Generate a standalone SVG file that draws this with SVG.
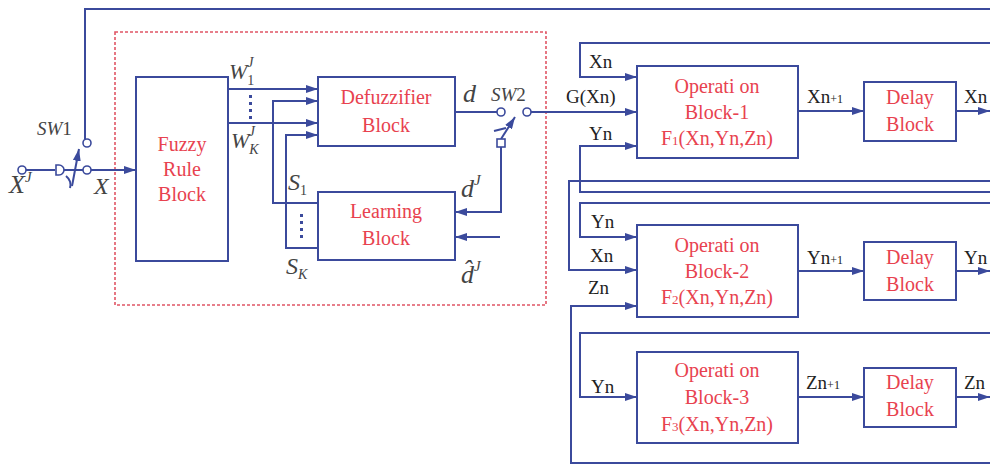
<svg xmlns="http://www.w3.org/2000/svg" width="990" height="466" viewBox="0 0 990 466">
<defs>
<marker id="arr" viewBox="0 0 12 8" refX="12" refY="4" markerWidth="12" markerHeight="8" markerUnits="userSpaceOnUse" orient="auto">
<path d="M0,0 L12,4 L0,8 Z" fill="#3b4a9c"/>
</marker>
<style>
.ln{fill:none;stroke:#3b4a9c;stroke-width:2}
.ar{fill:none;stroke:#3b4a9c;stroke-width:2;marker-end:url(#arr)}
.box{fill:#fff;stroke:#3b4a9c;stroke-width:2}
.ct{fill:#fff;stroke:#3b4a9c;stroke-width:1.6}
.bt{font-family:"Liberation Serif","Times New Roman",serif;font-size:20px;fill:#e8424f;text-anchor:middle}
.lb{font-family:"Liberation Serif","Times New Roman",serif;font-size:19px;fill:#222}
.mt{font-family:"Liberation Serif","Times New Roman",serif;font-style:italic;fill:#444}
.dot{fill:#3b4a9c}
</style>
</defs>
<rect width="990" height="466" fill="#fff"/>
<rect x="115" y="32" width="431" height="273" fill="none" stroke="#e05565" stroke-width="1.6" stroke-dasharray="3,2"/>
<g id="connectors">
<line class="ln" x1="26" y1="170" x2="55" y2="170"/>
<line class="ln" x1="63" y1="170" x2="83" y2="170"/>
<line class="ar" x1="91" y1="170" x2="136" y2="170"/>
<line class="ar" x1="72" y1="186" x2="79" y2="149"/>
<path class="ln" d="M66,176 Q72,181 70,188"/>
<polyline class="ln" points="85,139 85,9 990,9"/>
<line class="ar" x1="228" y1="89" x2="318" y2="89"/>
<line class="ar" x1="228" y1="123" x2="318" y2="123"/>
<polyline class="ar" points="318,203 273,203 273,101 318,101"/>
<polyline class="ar" points="318,248 286,248 286,135 318,135"/>
<line class="ln" x1="455" y1="112" x2="497" y2="112"/>
<line class="ar" x1="501" y1="139" x2="515" y2="117"/>
<line class="ln" x1="494" y1="131" x2="506" y2="128"/>
<polyline class="ar" points="501,147 501,212 455,212"/>
<line class="ar" x1="500" y1="237" x2="455" y2="237"/>
<line class="ar" x1="531" y1="112" x2="637" y2="112"/>
<polyline class="ar" points="990,43 580,43 580,77 637,77"/>
<polyline class="ar" points="990,192 580,192 580,146 637,146"/>
<polyline class="ar" points="990,203 580,203 580,237 637,237"/>
<polyline class="ar" points="990,181 569,181 569,270 637,270"/>
<polyline class="ar" points="990,463 571,463 571,306 637,306"/>
<polyline class="ar" points="990,333 580,333 580,397 637,397"/>
<line class="ar" x1="798" y1="111" x2="864" y2="111"/>
<line class="ar" x1="956" y1="111" x2="990" y2="111"/>
<line class="ar" x1="798" y1="271" x2="864" y2="271"/>
<line class="ar" x1="956" y1="271" x2="990" y2="271"/>
<line class="ar" x1="798" y1="397" x2="864" y2="397"/>
<line class="ar" x1="956" y1="397" x2="990" y2="397"/>
<circle class="ct" cx="22" cy="170" r="4"/>
<path class="ct" d="M56,165 L59,165 A5,5 0 0 1 59,175 L56,175 Z"/>
<circle class="ct" cx="87" cy="170" r="4"/>
<circle class="ct" cx="87" cy="143" r="4"/>
<circle class="ct" cx="501" cy="112" r="4"/>
<circle class="ct" cx="527" cy="112" r="4"/>
<rect class="ct" x="497" y="139" width="8" height="8"/>
<rect class="dot" x="249" y="95" width="3" height="3"/>
<rect class="dot" x="249" y="102" width="3" height="3"/>
<rect class="dot" x="249" y="109" width="3" height="3"/>
<rect class="dot" x="249" y="116" width="3" height="3"/>
<rect class="dot" x="300" y="214" width="3" height="3"/>
<rect class="dot" x="300" y="221" width="3" height="3"/>
<rect class="dot" x="300" y="228" width="3" height="3"/>
<rect class="dot" x="300" y="235" width="3" height="3"/>
</g>
<g id="fuzzy">
<rect class="box" x="136" y="77" width="92" height="184"/>
<text class="bt" x="182" y="151">Fuzzy</text>
<text class="bt" x="182" y="176">Rule</text>
<text class="bt" x="182" y="201">Block</text>
</g>
<g id="defuzzifier">
<rect class="box" x="318" y="77" width="137" height="69"/>
<text class="bt" x="386" y="104">Defuzzifier</text>
<text class="bt" x="386" y="132">Block</text>
</g>
<g id="learning">
<rect class="box" x="318" y="192" width="137" height="68"/>
<text class="bt" x="386" y="218">Learning</text>
<text class="bt" x="386" y="245">Block</text>
</g>
<g id="op1">
<rect class="box" x="637" y="66" width="161" height="92"/>
<text class="bt" x="717" y="93">Operati on</text>
<text class="bt" x="717" y="119">Block-1</text>
<text class="bt" x="717" y="145">F<tspan font-size="13">1</tspan>(Xn,Yn,Zn)</text>
</g>
<g id="delay1">
<rect class="box" x="864" y="82" width="92" height="59"/>
<text class="bt" x="910" y="104">Delay</text>
<text class="bt" x="910" y="131">Block</text>
</g>
<g id="op2">
<rect class="box" x="637" y="225" width="161" height="92"/>
<text class="bt" x="717" y="252">Operati on</text>
<text class="bt" x="717" y="278">Block-2</text>
<text class="bt" x="717" y="304">F<tspan font-size="13">2</tspan>(Xn,Yn,Zn)</text>
</g>
<g id="delay2">
<rect class="box" x="864" y="242" width="92" height="58"/>
<text class="bt" x="910" y="264">Delay</text>
<text class="bt" x="910" y="291">Block</text>
</g>
<g id="op3">
<rect class="box" x="637" y="352" width="161" height="91"/>
<text class="bt" x="717" y="377">Operati on</text>
<text class="bt" x="717" y="404">Block-3</text>
<text class="bt" x="717" y="431">F<tspan font-size="13">3</tspan>(Xn,Yn,Zn)</text>
</g>
<g id="delay3">
<rect class="box" x="864" y="368" width="92" height="59"/>
<text class="bt" x="910" y="389">Delay</text>
<text class="bt" x="910" y="416">Block</text>
</g>
<g id="labels">
<text class="mt" x="37" y="135" font-size="19">SW<tspan font-style="normal">1</tspan></text>
<text class="mt" x="9" y="193" font-size="26">X<tspan font-size="15" dy="-11">J</tspan></text>
<text class="mt" x="94" y="194" font-size="24">X</text>
<text class="mt" x="229" y="79" font-size="22">W<tspan font-size="14" dy="6" font-style="normal">1</tspan><tspan font-size="14" dx="-7" dy="-18">J</tspan></text>
<text class="mt" x="231" y="148" font-size="22">W<tspan font-size="14" dy="6">K</tspan><tspan font-size="14" dx="-10" dy="-18">J</tspan></text>
<text class="mt" x="288" y="190" font-size="24">S<tspan font-size="14" dy="5" font-style="normal">1</tspan></text>
<text class="mt" x="286" y="274" font-size="24">S<tspan font-size="14" dy="5">K</tspan></text>
<text class="mt" x="463" y="102" font-size="26">d</text>
<text class="mt" x="491" y="101" font-size="19">SW<tspan font-style="normal">2</tspan></text>
<text class="mt" x="461" y="197" font-size="26">d<tspan font-size="15" dy="-12">J</tspan></text>
<text class="mt" x="461" y="283" font-size="26">d&#x302;<tspan font-size="15" dy="-12">J</tspan></text>
<text class="lb" x="589" y="68">Xn</text>
<text class="lb" x="566" y="103">G(Xn)</text>
<text class="lb" x="589" y="140">Yn</text>
<text class="lb" x="591" y="228">Yn</text>
<text class="lb" x="590" y="262">Xn</text>
<text class="lb" x="588" y="294">Zn</text>
<text class="lb" x="591" y="393">Yn</text>
<text class="lb" x="807" y="103">Xn<tspan font-size="12">+1</tspan></text>
<text class="lb" x="807" y="264">Yn<tspan font-size="12">+1</tspan></text>
<text class="lb" x="806" y="389">Zn<tspan font-size="12">+1</tspan></text>
<text class="lb" x="964" y="103">Xn</text>
<text class="lb" x="964" y="264">Yn</text>
<text class="lb" x="964" y="389">Zn</text>
</g>
</svg>
